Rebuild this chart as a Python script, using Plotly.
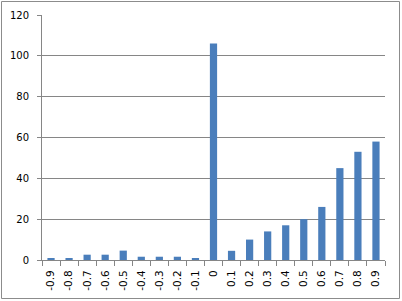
import plotly.graph_objects as go

categories = ["-0.9", "-0.8", "-0.7", "-0.6", "-0.5", "-0.4", "-0.3", "-0.2", "-0.1",
              "0", "0.1", "0.2", "0.3", "0.4", "0.5", "0.6", "0.7", "0.8", "0.9"]
values = [0.6, 0.6, 2.6, 2.6, 4.6, 1.6, 1.6, 1.6, 0.6,
          106, 4.5, 10, 14, 17, 20, 26, 45, 53, 58]
y_ticks = [0, 20, 40, 60, 80, 100, 120]

W, H = 402, 301
L, R, T, B = 42, 17, 15, 41
pw, ph = W - L - R, H - T - B

fig = go.Figure(go.Bar(x=categories, y=values, marker=dict(color="#4a7ebb", line=dict(width=0))))

grey = "#868686"
fig.update_layout(
    width=W, height=H,
    margin=dict(l=L, r=R, t=T, b=B, pad=0, autoexpand=False),
    paper_bgcolor="#ffffff", plot_bgcolor="#ffffff",
    bargap=0.6,
    showlegend=False,
    font=dict(family="DejaVu Sans", size=10, color="#000000"),
    xaxis=dict(type="category", tickangle=-90, tickson="boundaries",
               ticks="outside", ticklen=5, tickcolor=grey, tickwidth=1,
               showline=True, linecolor=grey, linewidth=1,
               showgrid=False, zeroline=False, automargin=False,
               tickfont=dict(family="DejaVu Sans", size=10.5, color="#000000"),
               ticklabelstandoff=5),
    yaxis=dict(range=[0, 120], tickvals=y_ticks, ticks="outside", ticklen=4,
               tickcolor=grey, tickwidth=1, automargin=False,
               showline=True, linecolor=grey, linewidth=1,
               showgrid=True, gridcolor=grey, gridwidth=1, zeroline=False,
               tickfont=dict(family="DejaVu Sans", size=10, color="#000000"),
               ticklabelstandoff=6),
    shapes=[dict(type="rect", xref="paper", yref="paper",
                 x0=(1.5 - L) / pw, x1=(399.5 - L) / pw,
                 y0=(H - B - 298.5) / ph, y1=(H - B - 1.5) / ph,
                 line=dict(color="#8c8c8c", width=1), fillcolor="rgba(0,0,0,0)",
                 layer="below")],
)

fig.write_html("out.html")
